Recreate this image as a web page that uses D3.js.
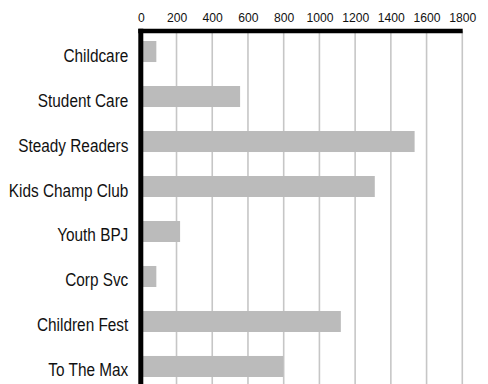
<!DOCTYPE html>
<html>
<head>
<meta charset="utf-8">
<script src="https://cdn.jsdelivr.net/npm/d3@7/dist/d3.min.js"></script>
<style>
  html, body { margin: 0; padding: 0; background: #fff; }
  svg { display: block; }
  text { font-family: "Liberation Sans", Arial, sans-serif; fill: #111; }
</style>
</head>
<body>
<svg id="chart" width="488" height="384"></svg>
<script>
// Program names and their totals
const programs = ["Childcare", "Student Care", "Steady Readers", "Kids Champ Club", "Youth BPJ", "Corp Svc", "Children Fest", "To The Max"];
const totals = [87, 556, 1533, 1310, 220, 87, 1120, 798];
const tickValues = [0, 200, 400, 600, 800, 1000, 1200, 1400, 1600, 1800];

// horizontal squeeze that gives the labels a condensed look
const labelSqueeze = 0.83;
const tickSqueeze = 0.9;

const svg = d3.select("#chart");
const rows = programs.map((name, i) => ({ name, value: totals[i] }));

const x = d3.scaleLinear().domain([0, 1800]).range([140.8, 462.3]);
const y = d3.scaleBand().domain(programs).range([29, 389]).paddingInner(0.533).paddingOuter(0.267);

// vertical gridlines
svg.append("g")
  .selectAll("line")
  .data(tickValues.slice(1))
  .join("line")
  .attr("x1", d => x(d)).attr("x2", d => x(d))
  .attr("y1", 31).attr("y2", 384)
  .attr("stroke", "#c6c6c6")
  .attr("stroke-width", 1.6);

// bars
svg.append("g")
  .selectAll("rect")
  .data(rows)
  .join("rect")
  .attr("x", x(0))
  .attr("y", d => y(d.name))
  .attr("width", d => x(d.value) - x(0))
  .attr("height", y.bandwidth())
  .attr("fill", "#bbbbbb");

// top value axis
const xAxis = svg.append("g")
  .attr("transform", "translate(0,31)")
  .call(d3.axisTop(x).tickValues(tickValues).tickSize(0).tickPadding(9).tickFormat(d3.format("d")));
xAxis.select(".domain").remove();
xAxis.selectAll("text")
  .attr("font-size", "13.5px")
  .attr("font-family", null)
  .attr("transform", `scale(${tickSqueeze},1)`);

// category axis
const labelPad = 12.5;
const yAxis = svg.append("g")
  .attr("transform", `translate(${x(0)},0)`)
  .call(d3.axisLeft(y).tickSize(0).tickPadding(labelPad));
yAxis.select(".domain").remove();
yAxis.selectAll("text")
  .attr("font-size", "18.5px")
  .attr("font-family", null)
  .attr("dy", "0.54em")
  .attr("x", -labelPad / labelSqueeze)
  .attr("transform", `scale(${labelSqueeze},1)`);

// heavy frame lines along the top and left edges
svg.append("line")
  .attr("x1", 138.3).attr("x2", 462.7)
  .attr("y1", 31).attr("y2", 31)
  .attr("stroke", "#000").attr("stroke-width", 4.6);
svg.append("line")
  .attr("x1", x(0)).attr("x2", x(0))
  .attr("y1", 28.7).attr("y2", 384)
  .attr("stroke", "#000").attr("stroke-width", 5);
</script>
</body>
</html>
